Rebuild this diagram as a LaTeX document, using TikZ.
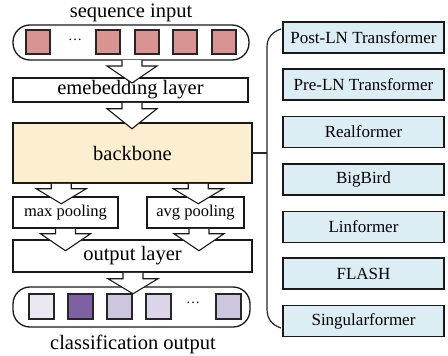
\documentclass[tikz,border=0pt]{standalone}
\usepackage{fontspec}
\setmainfont{Liberation Serif}
\usetikzlibrary{calc}
\definecolor{sqred}{HTML}{D99492}
\definecolor{bbfill}{HTML}{FCEFCF}
\definecolor{rfill}{HTML}{DCEDF4}
\definecolor{pA}{HTML}{ECE8F2}
\definecolor{pB}{HTML}{7E61A2}
\definecolor{pC}{HTML}{CEC5DF}
\definecolor{pD}{HTML}{DCD5E9}
\tikzset{
  box/.style={draw=black!90, line width=1.5pt, fill=white, inner sep=0pt},
  pill/.style={draw=black!90, line width=1.3pt, rounded corners=17pt},
  sq/.style={draw=black!85, line width=1.2pt},
  rbox/.style={draw=black!90, line width=1.5pt, fill=rfill, minimum width=161pt, minimum height=31pt, inner sep=0pt, font=\fontsize{17}{17}\selectfont},
  barr/.style={draw=black!90, line width=1.1pt, fill=white, line join=miter},
  big/.style={font=\fontsize{20.5}{20.5}\selectfont},
  small/.style={font=\fontsize{16.5}{16.5}\selectfont},
  brk/.style={draw=black!85, line width=1.2pt}
}
% block arrow: #1 start coordinate (top of shaft), #2 shaft length, #3 head length
\newcommand{\blockarr}[3]{%
  \draw[barr] ($#1+(-10,0)$) -- ++(0,#2) -- ++(-15,0) -- ++(25,#3) -- ++(25,-#3) -- ++(-15,0) -- ++(0,-#2);
}
\begin{document}
\begin{tikzpicture}[x=1pt,y=-1pt]
\useasboundingbox (0,0) rectangle (448,356);

% input sequence
\node[big, anchor=base] (tin) at (131,17) {sequence input};
\draw[pill] (13,25) rectangle (249,60);
\coordinate (inp) at (132,60);
\foreach \x in {26,96,135,173,212}{
  \draw[sq, fill=sqred] (\x,30) rectangle ++(24,24);
}
\node[font=\fontsize{14}{14}\selectfont] (idots) at (75,40) {\dots};

% embedding
\node[box, minimum width=235pt, minimum height=24pt, big] (emb) at (130.5,90) {emebedding layer};
% backbone
\node[box, fill=bbfill, minimum width=239pt, minimum height=60pt, big] (bb) at (132.5,153) {backbone};
% pooling
\node[box, minimum width=105pt, minimum height=31pt, small] (maxp) at (65.5,212.5) {max pooling};
\node[box, minimum width=97pt, minimum height=31pt, small] (avgp) at (195.5,212.5) {avg pooling};
% output layer
\node[box, minimum width=239pt, minimum height=32pt, big] (outl) at (132.5,256) {output layer};

% output sequence
\draw[pill] (13,287) rectangle (250,327);
\coordinate (outp) at (133,287);
\draw[sq, fill=pA] (29,294) rectangle ++(25,25);
\draw[sq, fill=pB] (68,294) rectangle ++(25,25);
\draw[sq, fill=pC] (107,294) rectangle ++(25,25);
\draw[sq, fill=pD] (146,294) rectangle ++(25,25);
\draw[sq, fill=pC] (216,294) rectangle ++(25,25);
\node[font=\fontsize{14}{14}\selectfont] (odots) at (193,303) {\dots};
\node[big, anchor=base] (tout) at (133,349) {classification output};

% block arrows
\blockarr{(inp)}{6}{17}
\blockarr{($(emb.south)+(1.5,0)$)}{6}{20}
\blockarr{($(bb.south west)+(49,0)$)}{5}{15}
\blockarr{($(bb.south west)+(186,0)$)}{5}{15}
\blockarr{($(maxp.south)+(0,0)$)}{5}{17}
\blockarr{($(avgp.south)+(3.5,0)$)}{5}{17}
\blockarr{($(outl.south)+(0.5,0)$)}{6}{15}

% right column
\node[rbox] (r1) at (363.5,37.5) {Post-LN Transformer};
\node[rbox] (r2) at (363.5,84.5) {Pre-LN Transformer};
\node[rbox] (r3) at (363.5,132) {Realformer};
\node[rbox] (r4) at (363.5,179.5) {BigBird};
\node[rbox] (r5) at (363.5,227) {Linformer};
\node[rbox] (r6) at (363.5,273.5) {FLASH};
\node[rbox] (r7) at (363.5,321) {Singularformer};

% bracket
\coordinate (bt) at (281,29);
\coordinate (bb2) at (281,328);
\coordinate (bm) at (267,153);
\draw[brk] (bt) .. controls (272,32) and (267,38) .. (267,47) -- (267,309) .. controls (267,319) and (272,325) .. (bb2);
\draw[brk] (bb.east) -- (bm);
\end{tikzpicture}
\end{document}
